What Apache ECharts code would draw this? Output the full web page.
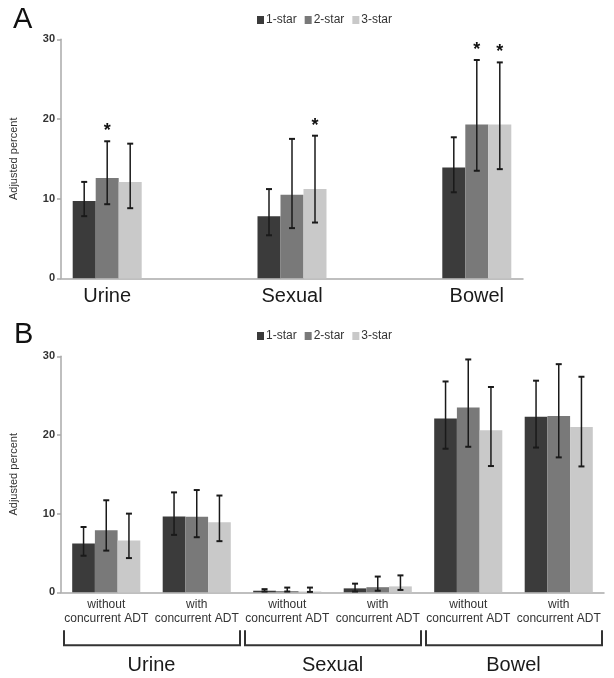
<!DOCTYPE html>
<html><head><meta charset="utf-8">
<script src="https://cdn.jsdelivr.net/npm/echarts@6/dist/echarts.min.js"></script>
<style>html,body{margin:0;padding:0;background:#fff}#c{width:614px;height:678px}</style>
</head><body><div id="c"></div>
<script>
// ---------- DATA ----------
const seriesNames = ['1-star', '2-star', '3-star'];
const colors = ['#3b3b3b', '#797979', '#c9c9c9'];
const yTicks = [0, 10, 20, 30];

// Panel A
const catsA = ['Urine', 'Sexual', 'Bowel'];
const a1 = [9.7, 7.8, 13.9];
const a1Lo = [7.8, 5.4, 10.8];
const a1Hi = [12.1, 11.2, 17.7];
const a2 = [12.6, 10.5, 19.3];
const a2Lo = [9.3, 6.3, 13.5];
const a2Hi = [17.2, 17.5, 27.4];
const a3 = [12.1, 11.2, 19.3];
const a3Lo = [8.8, 7.0, 13.7];
const a3Hi = [16.9, 17.9, 27.1];
const sigA1 = [0, 0, 0];
const sigA2 = [1, 0, 1];
const sigA3 = [0, 1, 1];

// Panel B
const catsB = ['without\nconcurrent ADT', 'with\nconcurrent ADT',
               'without\nconcurrent ADT', 'with\nconcurrent ADT',
               'without\nconcurrent ADT', 'with\nconcurrent ADT'];
const groupsB = ['Urine', 'Sexual', 'Bowel'];
const b1 = [6.2, 9.65, 0.2, 0.5, 22.1, 22.3];
const b1Lo = [4.65, 7.3, 0.1, 0.1, 18.25, 18.4];
const b1Hi = [8.3, 12.7, 0.4, 1.1, 26.8, 26.9];
const b2 = [7.9, 9.6, 0.15, 0.65, 23.5, 22.4];
const b2Lo = [5.3, 7.0, 0.1, 0.2, 18.5, 17.15];
const b2Hi = [11.7, 13.0, 0.6, 2.0, 29.6, 29.0];
const b3 = [6.6, 8.9, 0.1, 0.75, 20.6, 21.0];
const b3Lo = [4.35, 6.5, 0.05, 0.3, 16.05, 16.0];
const b3Hi = [10.0, 12.3, 0.6, 2.15, 26.1, 27.4];

// ---------- BUILD ----------
const FONT = '"Liberation Sans", Arial, sans-serif';
const BW_A = 23, BW_B = 22.7;
// Panel A uses spacer categories between the three groups
const axisA = [];
catsA.forEach((c, i) => { axisA.push(c); if (i < catsA.length - 1) axisA.push(''); });
function spread(arr) { const out = []; arr.forEach((v, i) => { out.push(v); if (i < arr.length - 1) out.push('-'); }); return out; }

const chart = echarts.init(document.getElementById('c'), null, { renderer: 'canvas' });

function errSeries(name, xi, yi, sIdx, bw, vals, lo, hi, sig, idxMap) {
  return {
    type: 'custom', name: name, xAxisIndex: xi, yAxisIndex: yi, z: 5,
    data: vals.map((v, i) => [idxMap(i), lo[i], hi[i], sig ? sig[i] : 0]),
    encode: { x: 0, y: [1, 2] },
    renderItem: function (params, api) {
      const off = (sIdx - 1) * bw;
      const pLo = api.coord([api.value(0), api.value(1)]);
      const pHi = api.coord([api.value(0), api.value(2)]);
      const x = pLo[0] + off;
      const st = { stroke: '#1a1a1a', lineWidth: 1.5 };
      const ch = [
        { type: 'line', shape: { x1: x, y1: pLo[1], x2: x, y2: pHi[1] }, style: st },
        { type: 'line', shape: { x1: x - 3, y1: pLo[1], x2: x + 3, y2: pLo[1] }, style: { stroke: '#1a1a1a', lineWidth: 2 } },
        { type: 'line', shape: { x1: x - 3, y1: pHi[1], x2: x + 3, y2: pHi[1] }, style: { stroke: '#1a1a1a', lineWidth: 2 } }
      ];
      if (api.value(3)) {
        ch.push({ type: 'text', style: { text: '*', x: x, y: pHi[1] - 10, align: 'center', verticalAlign: 'middle',
          font: 'bold 18px ' + FONT, fill: '#111' } });
      }
      return { type: 'group', children: ch };
    }
  };
}

const yAxisCommon = {
  type: 'value', min: 0, max: yTicks[yTicks.length - 1], interval: yTicks[1] - yTicks[0],
  name: 'Adjusted percent', nameLocation: 'middle', nameRotate: 90, nameGap: 42,
  nameTextStyle: { fontSize: 11, color: '#333', fontFamily: FONT },
  axisLine: { show: true, lineStyle: { color: '#aaa', width: 1.5 } },
  axisTick: { show: true, length: 4, lineStyle: { color: '#aaa', width: 1.5 } },
  axisLabel: { fontSize: 11, color: '#333', margin: 6, fontFamily: FONT, fontWeight: 'bold' },
  splitLine: { show: false }
};

const legendCommon = {
  data: seriesNames, left: 252, icon: 'rect', itemWidth: 7, itemHeight: 8, itemGap: 8,
  textStyle: { fontSize: 12, color: '#333', fontFamily: FONT, padding: [0, 0, 0, -3] },
  selectedMode: false
};

const series = [];
const valsA = [a1, a2, a3], loA = [a1Lo, a2Lo, a3Lo], hiA = [a1Hi, a2Hi, a3Hi], sigA = [sigA1, sigA2, sigA3];
const valsB = [b1, b2, b3], loB = [b1Lo, b2Lo, b3Lo], hiB = [b1Hi, b2Hi, b3Hi];
for (let s = 0; s < 3; s++) {
  series.push({ type: 'bar', name: seriesNames[s], xAxisIndex: 0, yAxisIndex: 0, data: spread(valsA[s]),
    barWidth: BW_A, barGap: '0%', itemStyle: { color: colors[s] } });
}
for (let s = 0; s < 3; s++) {
  series.push({ type: 'bar', name: seriesNames[s], xAxisIndex: 1, yAxisIndex: 1, data: valsB[s],
    barWidth: BW_B, barGap: '0%', itemStyle: { color: colors[s] } });
}
for (let s = 0; s < 3; s++) {
  series.push(errSeries('errA' + s, 0, 0, s, BW_A, valsA[s], loA[s], hiA[s], sigA[s], i => i * 2));
  series.push(errSeries('errB' + s, 1, 1, s, BW_B, valsB[s], loB[s], hiB[s], null, i => i));
}

const option = {
  animation: false,
  backgroundColor: '#fff',
  title: [
    { text: 'A', left: 8, top: 0, textStyle: { fontSize: 29, fontWeight: 'normal', color: '#111', fontFamily: FONT } },
    { text: 'B', left: 9, top: 315, textStyle: { fontSize: 29, fontWeight: 'normal', color: '#111', fontFamily: FONT } }
  ],
  legend: [
    Object.assign({}, legendCommon, { top: 9 }),
    Object.assign({}, legendCommon, { top: 325 })
  ],
  grid: [
    { left: 59, top: 39.3, width: 464, height: 239 },
    { left: 58.5, top: 356.3, width: 545.5, height: 236 }
  ],
  xAxis: [
    { type: 'category', gridIndex: 0, data: axisA,
      axisLine: { lineStyle: { color: '#aaa', width: 1.5 } }, axisTick: { show: false },
      axisLabel: { fontSize: 20, color: '#1a1a1a', margin: 8, fontFamily: FONT, interval: 0 } },
    { type: 'category', gridIndex: 1, data: catsB,
      axisLine: { lineStyle: { color: '#aaa', width: 1.5 } }, axisTick: { show: false },
      axisLabel: { fontSize: 12, color: '#333', margin: 6, lineHeight: 13.5, fontFamily: FONT, interval: 0 } },
    { type: 'category', gridIndex: 1, data: groupsB, position: 'bottom',
      axisLine: { show: false }, axisTick: { show: false },
      axisLabel: { fontSize: 20, color: '#1a1a1a', margin: 63, fontFamily: FONT, interval: 0 } }
  ],
  yAxis: [
    Object.assign({ gridIndex: 0 }, yAxisCommon),
    Object.assign({ gridIndex: 1 }, yAxisCommon)
  ],
  series: series
};
chart.setOption(option);

// Brackets under panel B, positioned from the group axis bands
const y0 = chart.convertToPixel({ yAxisIndex: 1 }, 0);
const graphics = groupsB.map((g, i) => {
  const cx = chart.convertToPixel({ xAxisIndex: 2 }, g);
  const half = chart.getModel().getComponent('xAxis', 2).axis.getBandWidth() / 2;
  const xl = cx - half + 3, xr = cx + half - 2;
  return { type: 'polyline', shape: { points: [[xl, y0 + 38], [xl, y0 + 53], [xr, y0 + 53], [xr, y0 + 38]] },
    style: { stroke: '#333', lineWidth: 2, fill: null } };
});
chart.setOption({ graphic: graphics });
</script></body></html>
